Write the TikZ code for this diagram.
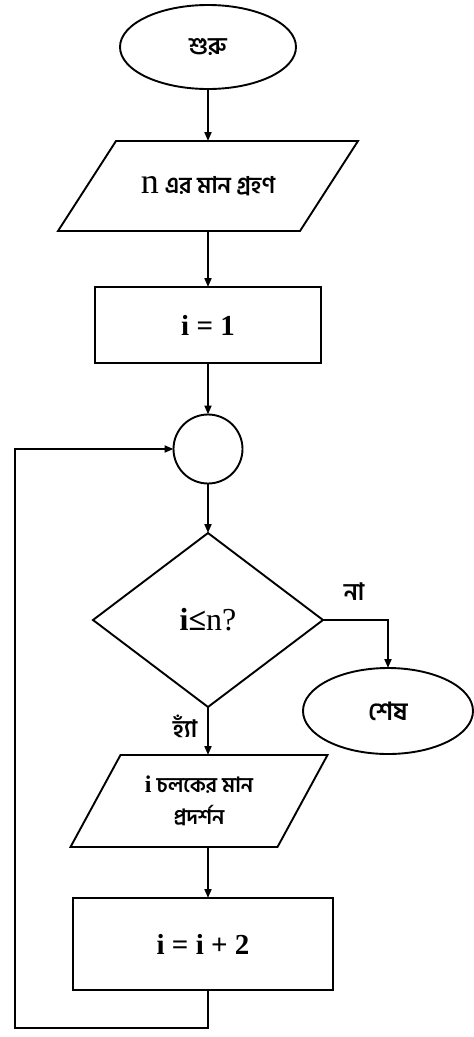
\documentclass[tikz,border=0pt]{standalone}
\usepackage{fontspec}
\setmainfont{Liberation Serif}
\newfontfamily\bn[Script=Bengali]{Hind Siliguri}
\usetikzlibrary{shapes.geometric,arrows.meta,calc}

\begin{document}
\begin{tikzpicture}[x=1pt,y=-1pt,
  every node/.style={inner sep=0pt, outer sep=0pt},
  shape line/.style={draw=black, line width=1.9pt},
  terminal/.style={shape line, ellipse},
  process/.style={shape line, rectangle},
  decision/.style={shape line, diamond},
  arr/.style={draw=black, line width=1.9pt, -{Triangle[length=9pt,width=7pt]}},
]
\useasboundingbox (0,0) rectangle (474,1037);

% start
\node[terminal, minimum width=176pt, minimum height=84pt] (start) at (208,47)
  {\fontsize{24}{30}\bn\bfseries শুরু};

% input n
\node[minimum width=242pt, minimum height=90pt] (in1) at (208,186)
  {{\fontsize{36}{40}\selectfont n}\hspace{6pt}{\fontsize{23}{26}\bn\bfseries এর মান গ্রহণ}};
\draw[shape line] ($(in1.north west)+(29,0)$) -- ($(in1.north east)+(29,0)$)
  -- ($(in1.south east)-(29,0)$) -- ($(in1.south west)-(29,0)$) -- cycle;

% initialisation
\node[process, minimum width=226pt, minimum height=76pt] (init) at (208,325)
  {\fontsize{29}{32}\selectfont\bfseries i = 1};

% junction
\node[shape line, circle, minimum size=69pt] (join) at (208,449) {};

% test
\node[decision, minimum width=230pt, minimum height=174pt] (dec) at (208,620)
  {\fontsize{32}{36}\selectfont\textbf{i≤}n?};

% end
\node[terminal, minimum width=170pt, minimum height=86pt] (stop) at (388,711)
  {\fontsize{25}{30}\bn\bfseries শেষ};

% output i
\node[minimum width=207pt, minimum height=92pt, align=center,
      font=\fontsize{21}{32}\bn\bfseries] (out) at (199,801)
  {{\fontsize{24}{32}\rmfamily\bfseries i} চলকের মান\\ প্রদর্শন};
\draw[shape line] ($(out.north west)+(25,0)$) -- ($(out.north east)+(25,0)$)
  -- ($(out.south east)-(25,0)$) -- ($(out.south west)-(25,0)$) -- cycle;

% increment
\node[process, minimum width=260pt, minimum height=92pt] (step) at (203,944)
  {\fontsize{29}{32}\selectfont\bfseries i = i + 2};

% branch labels
\node (no) at (354,592) {\fontsize{24}{28}\bn\bfseries না};
\node (yes) at (185,726) {\fontsize{24}{28}\bn\bfseries হ্যাঁ};

% connectors
\coordinate (loop) at (15,1028);
\draw[arr] (start) -- (in1);
\draw[arr] (in1) -- (init);
\draw[arr] (init) -- (join);
\draw[arr] (join) -- (dec);
\draw[arr] (dec.east) -| (stop.north);
\draw[arr] (dec.south) -- (dec.south |- out.north);
\draw[arr] (dec.south |- out.south) -- (dec.south |- step.north);
\draw[arr] (step.south -| dec.south) -- (loop -| dec.south) -- (loop) |- (join.west);
\end{tikzpicture}
\end{document}
